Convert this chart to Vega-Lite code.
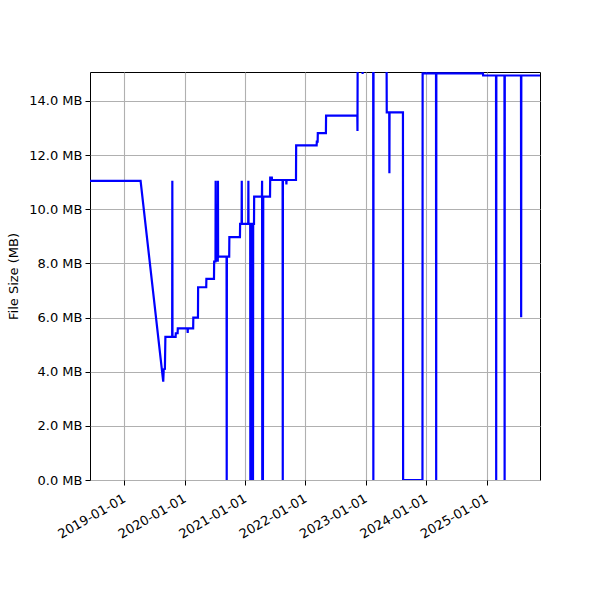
{
  "$schema": "https://vega.github.io/schema/vega-lite/v6.json",
  "width": 450,
  "height": 408,
  "autosize": "none",
  "padding": {"left": 90, "top": 72, "right": 60, "bottom": 120},
  "background": "white",
  "config": {
    "view": {"stroke": "black", "strokeWidth": 1},
    "axis": {
      "labelFont": "DejaVu Sans",
      "titleFont": "DejaVu Sans",
      "labelFontSize": 13,
      "titleFontSize": 13,
      "labelColor": "black",
      "titleColor": "black",
      "titleFontWeight": "normal",
      "tickColor": "black",
      "tickSize": 5,
      "tickWidth": 1,
      "domain": false,
      "gridColor": "#b0b0b0",
      "gridWidth": 1.1,
      "labelOverlap": false,
      "labelFlush": false,
      "labelBound": false
    }
  },
  "data": {
    "values": [
      {"date": "2018-06-08", "size": 11.05},
      {"date": "2019-04-10", "size": 11.05},
      {"date": "2019-08-25", "size": 3.63},
      {"date": "2019-08-28", "size": 4.09},
      {"date": "2019-09-04", "size": 4.1},
      {"date": "2019-09-07", "size": 5.29},
      {"date": "2019-10-18", "size": 5.29},
      {"date": "2019-10-19", "size": 11.05},
      {"date": "2019-10-20", "size": 5.29},
      {"date": "2019-11-08", "size": 5.29},
      {"date": "2019-11-09", "size": 5.42},
      {"date": "2019-11-20", "size": 5.42},
      {"date": "2019-11-21", "size": 5.6},
      {"date": "2020-01-19", "size": 5.6},
      {"date": "2020-01-20", "size": 5.43},
      {"date": "2020-01-21", "size": 5.6},
      {"date": "2020-02-22", "size": 5.6},
      {"date": "2020-02-23", "size": 6.0},
      {"date": "2020-03-22", "size": 6.0},
      {"date": "2020-03-23", "size": 7.12},
      {"date": "2020-05-11", "size": 7.12},
      {"date": "2020-05-12", "size": 7.43},
      {"date": "2020-06-27", "size": 7.43},
      {"date": "2020-06-28", "size": 8.07},
      {"date": "2020-07-06", "size": 8.07},
      {"date": "2020-07-07", "size": 11.05},
      {"date": "2020-07-08", "size": 8.1},
      {"date": "2020-07-20", "size": 8.1},
      {"date": "2020-07-21", "size": 11.05},
      {"date": "2020-07-22", "size": 8.25},
      {"date": "2020-09-11", "size": 8.25},
      {"date": "2020-09-12", "size": 0},
      {"date": "2020-09-13", "size": 8.25},
      {"date": "2020-09-27", "size": 8.25},
      {"date": "2020-09-28", "size": 8.97},
      {"date": "2020-12-01", "size": 8.97},
      {"date": "2020-12-02", "size": 9.46},
      {"date": "2020-12-11", "size": 9.46},
      {"date": "2020-12-12", "size": 11.05},
      {"date": "2020-12-13", "size": 9.46},
      {"date": "2021-01-20", "size": 9.46},
      {"date": "2021-01-21", "size": 11.05},
      {"date": "2021-01-22", "size": 9.46},
      {"date": "2021-02-01", "size": 9.46},
      {"date": "2021-02-02", "size": 0},
      {"date": "2021-02-03", "size": 9.46},
      {"date": "2021-02-09", "size": 9.46},
      {"date": "2021-02-10", "size": 0},
      {"date": "2021-02-11", "size": 9.46},
      {"date": "2021-02-17", "size": 9.46},
      {"date": "2021-02-18", "size": 0},
      {"date": "2021-02-19", "size": 9.46},
      {"date": "2021-02-24", "size": 9.46},
      {"date": "2021-02-25", "size": 10.47},
      {"date": "2021-04-13", "size": 10.47},
      {"date": "2021-04-14", "size": 11.05},
      {"date": "2021-04-15", "size": 0},
      {"date": "2021-04-17", "size": 10.47},
      {"date": "2021-04-19", "size": 0},
      {"date": "2021-04-21", "size": 10.47},
      {"date": "2021-06-01", "size": 10.47},
      {"date": "2021-06-02", "size": 11.17},
      {"date": "2021-06-12", "size": 11.17},
      {"date": "2021-06-13", "size": 11.08},
      {"date": "2021-08-16", "size": 11.08},
      {"date": "2021-08-17", "size": 0},
      {"date": "2021-08-18", "size": 11.08},
      {"date": "2021-09-07", "size": 11.08},
      {"date": "2021-09-08", "size": 10.92},
      {"date": "2021-09-09", "size": 11.08},
      {"date": "2021-11-05", "size": 11.08},
      {"date": "2021-11-06", "size": 12.36},
      {"date": "2022-03-10", "size": 12.36},
      {"date": "2022-03-11", "size": 12.5},
      {"date": "2022-03-16", "size": 12.5},
      {"date": "2022-03-17", "size": 12.81},
      {"date": "2022-05-05", "size": 12.81},
      {"date": "2022-05-06", "size": 13.46},
      {"date": "2022-11-11", "size": 13.46},
      {"date": "2022-11-12", "size": 12.89},
      {"date": "2022-11-13", "size": 15.6},
      {"date": "2022-12-12", "size": 15.6},
      {"date": "2022-12-13", "size": 15.0},
      {"date": "2022-12-14", "size": 15.6},
      {"date": "2023-02-15", "size": 15.6},
      {"date": "2023-02-16", "size": 0},
      {"date": "2023-02-17", "size": 15.6},
      {"date": "2023-05-07", "size": 15.6},
      {"date": "2023-05-08", "size": 13.58},
      {"date": "2023-05-23", "size": 13.58},
      {"date": "2023-05-24", "size": 11.33},
      {"date": "2023-05-25", "size": 13.58},
      {"date": "2023-08-14", "size": 13.58},
      {"date": "2023-08-15", "size": 0},
      {"date": "2023-12-10", "size": 0},
      {"date": "2023-12-11", "size": 15.02},
      {"date": "2024-03-01", "size": 15.02},
      {"date": "2024-03-02", "size": 0},
      {"date": "2024-03-03", "size": 15.02},
      {"date": "2024-12-10", "size": 15.02},
      {"date": "2024-12-11", "size": 14.94},
      {"date": "2025-02-27", "size": 14.94},
      {"date": "2025-02-28", "size": 0},
      {"date": "2025-03-01", "size": 14.94},
      {"date": "2025-04-19", "size": 14.94},
      {"date": "2025-04-20", "size": 0},
      {"date": "2025-04-21", "size": 14.94},
      {"date": "2025-07-28", "size": 14.94},
      {"date": "2025-07-29", "size": 6.01},
      {"date": "2025-07-30", "size": 14.94},
      {"date": "2025-11-25", "size": 14.94}
    ]
  },
  "mark": {"type": "line", "color": "#0000ff", "strokeWidth": 2.2, "clip": true},
  "encoding": {
    "x": {
      "field": "date",
      "type": "temporal",
      "scale": {
        "type": "utc",
        "domain": [
          {"year": 2018, "month": 6, "date": 8, "utc": true},
          {"year": 2025, "month": 11, "date": 20, "utc": true}
        ]
      },
      "axis": {
        "title": null,
        "format": "%Y-%m-%d",
        "labelAngle": -30,
        "labelAlign": "right",
        "labelBaseline": "top",
        "labelPadding": 7,
        "labelOffset": -3,
        "values": [
          {"year": 2019, "month": 1, "date": 1, "utc": true},
          {"year": 2020, "month": 1, "date": 1, "utc": true},
          {"year": 2021, "month": 1, "date": 1, "utc": true},
          {"year": 2022, "month": 1, "date": 1, "utc": true},
          {"year": 2023, "month": 1, "date": 1, "utc": true},
          {"year": 2024, "month": 1, "date": 1, "utc": true},
          {"year": 2025, "month": 1, "date": 1, "utc": true}
        ]
      }
    },
    "y": {
      "field": "size",
      "type": "quantitative",
      "scale": {"domain": [0, 15.07], "nice": false, "zero": false},
      "axis": {
        "title": "File Size (MB)",
        "values": [0, 2, 4, 6, 8, 10, 12, 14],
        "labelExpr": "format(datum.value, '.1f') + ' MB'",
        "labelPadding": 3,
        "titlePadding": 8
      }
    }
  }
}
